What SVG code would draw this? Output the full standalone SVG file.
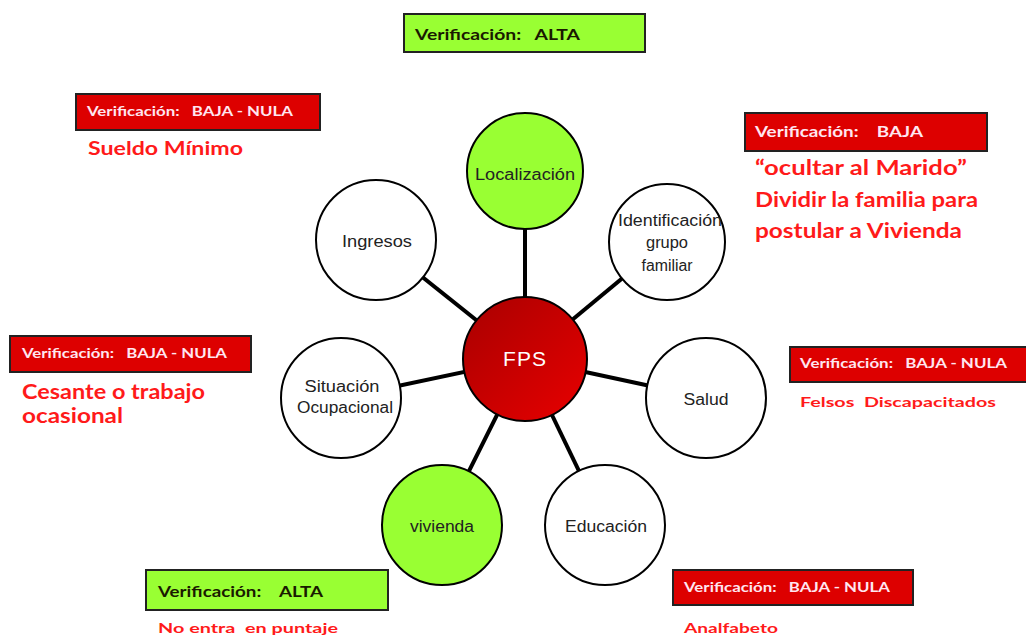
<svg xmlns="http://www.w3.org/2000/svg" width="1026" height="636" viewBox="0 0 1026 636">
<defs>
<linearGradient id="fpsGrad" x1="0" y1="0" x2="1" y2="1">
<stop offset="0" stop-color="#a80000"/>
<stop offset="1" stop-color="#e80000"/>
</linearGradient>
<style>
.node{fill:#ffffff;stroke:#000;stroke-width:2}
.green{fill:#99ff33;stroke:#000;stroke-width:2}
.lbl{font-family:"Liberation Sans",Arial,sans-serif;font-size:16px;fill:#222;text-anchor:middle}
.conn{stroke:#000;stroke-width:4}
.boxg{fill:#99ff33;stroke:#222;stroke-width:2}
.boxr{fill:#dd0000;stroke:#222;stroke-width:2}
.vg{font-family:Lato,"Open Sans",sans-serif;font-weight:bold;fill:#1a1a00}
.vr{font-family:Lato,"Open Sans",sans-serif;font-weight:bold;fill:#ffe6f0}
.note{font-family:Lato,"Open Sans",sans-serif;font-weight:bold;fill:#ff1a1a}
</style>
</defs>
<rect width="1026" height="636" fill="#ffffff"/>
<g id="connectors">
<line class="conn" x1="525" y1="359" x2="525" y2="172"/>
<line class="conn" x1="525" y1="359" x2="376" y2="240"/>
<line class="conn" x1="525" y1="359" x2="666" y2="242"/>
<line class="conn" x1="525" y1="359" x2="341" y2="398"/>
<line class="conn" x1="525" y1="359" x2="706" y2="398"/>
<line class="conn" x1="525" y1="359" x2="442" y2="525"/>
<line class="conn" x1="525" y1="359" x2="605" y2="525"/>
</g>
<g id="localizacion"><circle class="green" cx="525" cy="171" r="58"/><text class="lbl" x="525" y="180" textLength="100" lengthAdjust="spacingAndGlyphs">Localización</text></g>
<g id="ingresos"><circle class="node" cx="376" cy="240" r="60"/><text class="lbl" x="377" y="247" textLength="70" lengthAdjust="spacingAndGlyphs">Ingresos</text></g>
<g id="identificacion"><circle class="node" cx="667" cy="242" r="58"/><text class="lbl" x="670" y="226" textLength="104" lengthAdjust="spacingAndGlyphs">Identificación</text><text class="lbl" x="667" y="248" textLength="42" lengthAdjust="spacingAndGlyphs">grupo</text><text class="lbl" x="667" y="271" textLength="51" lengthAdjust="spacingAndGlyphs">familiar</text></g>
<g id="situacion"><circle class="node" cx="341" cy="398" r="60"/><text class="lbl" x="342" y="392" textLength="75" lengthAdjust="spacingAndGlyphs">Situación</text><text class="lbl" x="345" y="413" textLength="96" lengthAdjust="spacingAndGlyphs">Ocupacional</text></g>
<g id="salud"><circle class="node" cx="706" cy="398" r="60"/><text class="lbl" x="706" y="405" textLength="45" lengthAdjust="spacingAndGlyphs">Salud</text></g>
<g id="vivienda"><circle class="green" cx="442" cy="525" r="60"/><text class="lbl" x="442" y="532" textLength="64" lengthAdjust="spacingAndGlyphs">vivienda</text></g>
<g id="educacion"><circle class="node" cx="605" cy="525" r="60"/><text class="lbl" x="606" y="532" textLength="82" lengthAdjust="spacingAndGlyphs">Educación</text></g>
<g id="fps"><circle cx="525" cy="359" r="62" fill="url(#fpsGrad)" stroke="#000" stroke-width="2"/><text x="525" y="366" font-family="'Liberation Sans',Arial,sans-serif" font-size="21" fill="#ffffff" text-anchor="middle" letter-spacing="1">FPS</text></g>
<g id="ver-top"><rect class="boxg" x="404" y="14" width="241" height="38"/><text class="vg" x="415" y="40" font-size="15" textLength="165" lengthAdjust="spacingAndGlyphs" xml:space="preserve">Verificación:   ALTA</text></g>
<g id="ver-ingresos"><rect class="boxr" x="76" y="94" width="244" height="36"/><text class="vr" x="87" y="116" font-size="13" textLength="206" lengthAdjust="spacingAndGlyphs" xml:space="preserve">Verificación:   BAJA - NULA</text><text class="note" x="88" y="155" font-size="19" textLength="155" lengthAdjust="spacingAndGlyphs">Sueldo Mínimo</text></g>
<g id="ver-identificacion"><rect class="boxr" x="745" y="113" width="242" height="38"/><text class="vr" x="755" y="137" font-size="15" textLength="168" lengthAdjust="spacingAndGlyphs" xml:space="preserve">Verificación:    BAJA</text><text class="note" x="755" y="175" font-size="20" textLength="212" lengthAdjust="spacingAndGlyphs">“ocultar al Marido”</text><text class="note" x="755" y="207" font-size="20" textLength="223" lengthAdjust="spacingAndGlyphs">Dividir la familia para</text><text class="note" x="755" y="238" font-size="20" textLength="207" lengthAdjust="spacingAndGlyphs">postular a Vivienda</text></g>
<g id="ver-situacion"><rect class="boxr" x="10" y="336" width="241" height="36"/><text class="vr" x="22" y="358" font-size="13" textLength="205" lengthAdjust="spacingAndGlyphs" xml:space="preserve">Verificación:   BAJA - NULA</text><text class="note" x="22" y="399" font-size="20" textLength="183" lengthAdjust="spacingAndGlyphs">Cesante o trabajo</text><text class="note" x="22" y="423" font-size="20" textLength="101" lengthAdjust="spacingAndGlyphs">ocasional</text></g>
<g id="ver-salud"><rect class="boxr" x="790" y="347" width="240" height="35"/><text class="vr" x="800" y="368" font-size="13" textLength="207" lengthAdjust="spacingAndGlyphs" xml:space="preserve">Verificación:   BAJA - NULA</text><text class="note" x="800" y="407" font-size="14" textLength="196" lengthAdjust="spacingAndGlyphs" xml:space="preserve">Felsos  Discapacitados</text></g>
<g id="ver-vivienda"><rect class="boxg" x="146" y="570" width="242" height="40"/><text class="vg" x="158" y="597" font-size="15" textLength="165" lengthAdjust="spacingAndGlyphs" xml:space="preserve">Verificación:    ALTA</text><text class="note" x="158" y="633" font-size="14" textLength="180" lengthAdjust="spacingAndGlyphs" xml:space="preserve">No entra  en puntaje</text></g>
<g id="ver-educacion"><rect class="boxr" x="673" y="570" width="240" height="35"/><text class="vr" x="684" y="592" font-size="13" textLength="206" lengthAdjust="spacingAndGlyphs" xml:space="preserve">Verificación:   BAJA - NULA</text><text class="note" x="684" y="633" font-size="14" textLength="94" lengthAdjust="spacingAndGlyphs">Analfabeto</text></g>
</svg>
